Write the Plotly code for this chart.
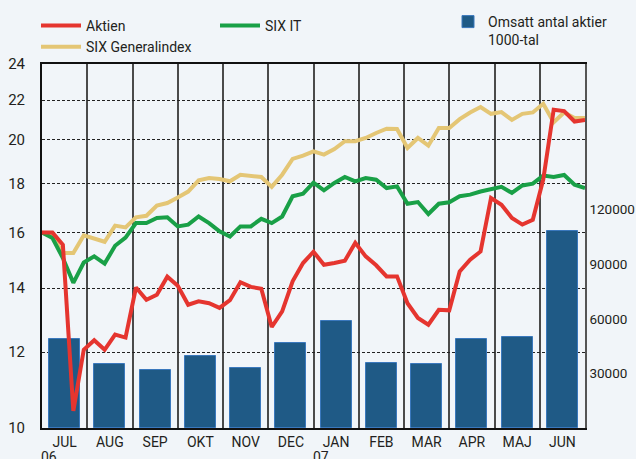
import numpy as np
import plotly.graph_objects as go

months = ["JUL", "AUG", "SEP", "OKT", "NOV", "DEC", "JAN", "FEB", "MAR", "APR", "MAJ", "JUN"]
years = ["06", "07"]
year_month_index = [0, 6]

# Omsatt antal aktier, 1000-tal (monthly)
volume = [48900, 35000, 31870, 39730, 32800, 46540, 58800, 35880, 35170, 48900, 49840, 108420]

# Weekly index values (53 weeks)
aktien = [16.0, 16.0, 15.54, 10.42, 12.07, 12.35, 12.07, 12.52, 12.43, 14.02,
          13.61, 13.78, 14.39, 14.08, 13.45, 13.56, 13.50, 13.35, 13.6, 14.20,
          14.04, 13.98, 12.75, 13.24, 14.23, 14.87, 15.28, 14.81, 14.87, 14.95,
          15.61, 15.11, 14.79, 14.40, 14.40, 13.50, 13.03, 12.82, 13.29, 13.27,
          14.57, 14.99, 15.29, 17.39, 17.11, 16.57, 16.31, 16.50, 18.17, 21.50,
          21.43, 20.90, 20.98]
six_it = [16.0, 15.79, 15.05, 14.18, 14.89, 15.11, 14.85, 15.50, 15.81, 16.37,
          16.37, 16.57, 16.60, 16.24, 16.31, 16.63, 16.37, 16.05, 15.85, 16.24,
          16.24, 16.54, 16.37, 16.63, 17.46, 17.57, 18.04, 17.71, 18.03, 18.29,
          18.10, 18.24, 18.17, 17.81, 17.88, 17.15, 17.22, 16.73, 17.15, 17.21,
          17.46, 17.53, 17.66, 17.77, 17.86, 17.60, 17.92, 18.0, 18.35, 18.29,
          18.38, 17.95, 17.81]
six_general = [16.0, 15.85, 15.23, 15.23, 15.89, 15.76, 15.65, 16.27, 16.20, 16.60,
               16.66, 17.07, 17.18, 17.41, 17.66, 18.14, 18.24, 18.20, 18.10, 18.39,
               18.36, 18.29, 17.86, 18.39, 19.10, 19.25, 19.45, 19.30, 19.56, 19.93,
               19.93, 20.09, 20.33, 20.54, 20.53, 19.61, 20.09, 19.72, 20.58, 20.58,
               21.02, 21.36, 21.64, 21.29, 21.38, 20.98, 21.29, 21.36, 21.81, 20.86,
               21.36, 21.08, 21.08]

left_ticks = [10, 12, 14, 16, 18, 20, 22, 24]
right_ticks = [30000, 60000, 90000, 120000]

RED = "#e5352f"
GREEN = "#19a047"
YELLOW = "#e4c675"
BAR = "#1f5a86"
BAR_EDGE = "#3a78bd"
BG = "#f1f5f9"
TXT = "#231f20"
FONT = "Roboto"

n_weeks = len(aktien)
week_x = np.arange(n_weeks) * len(months) / (n_weeks - 1)
month_x = np.arange(len(months)) + 0.5

fig = go.Figure()

fig.add_trace(go.Bar(
    x=month_x, y=volume, width=0.68, name="Omsatt antal aktier<br>1000-tal",
    marker=dict(color=BAR, line=dict(color=BAR_EDGE, width=1)),
    yaxis="y", legend="legend3",
))
fig.add_trace(go.Scatter(
    x=week_x, y=six_general, mode="lines", name="SIX Generalindex",
    line=dict(color=YELLOW, width=4), yaxis="y2", legend="legend", legendrank=2,
))
fig.add_trace(go.Scatter(
    x=week_x, y=six_it, mode="lines", name="SIX IT",
    line=dict(color=GREEN, width=4), yaxis="y2", legend="legend2",
))
fig.add_trace(go.Scatter(
    x=week_x, y=aktien, mode="lines", name="Aktien",
    line=dict(color=RED, width=4), yaxis="y2", legend="legend", legendrank=1,
))

annotations = []
for yr, mi in zip(years, year_month_index):
    annotations.append(dict(
        x=mi, y=0, xref="x", yref="paper", text=yr, showarrow=False,
        xanchor="left", yanchor="top", yshift=-19, xshift=-3,
        font=dict(family=FONT, size=14, color=TXT),
    ))

def legend_cfg(x, y, itemwidth, valign="middle"):
    return dict(
        x=x, y=y, xref="container", yref="container", yanchor="top", xanchor="left",
        bgcolor="rgba(0,0,0,0)", borderwidth=0, itemwidth=itemwidth,
        font=dict(family=FONT, size=14, color=TXT), orientation="v",
        traceorder="normal", tracegroupgap=0, valign=valign,
    )

fig.update_layout(
    width=636, height=459,
    margin=dict(l=42, r=51, t=64, b=31, autoexpand=False),
    paper_bgcolor=BG, plot_bgcolor=BG,
    showlegend=True,
    bargap=0,
    font=dict(family=FONT, size=14, color=TXT),
    xaxis=dict(
        range=[0, len(months)],
        tickmode="array", tickvals=list(month_x), ticktext=months,
        showgrid=False, zeroline=False,
        showline=True, linecolor="#111", linewidth=2, mirror=True,
        ticks="", ticklabelstandoff=0,
        tickfont=dict(family=FONT, size=14, color=TXT),
        minor=dict(tickmode="array", tickvals=list(range(len(months) + 1)),
                   showgrid=True, gridcolor="#4a4a4a", gridwidth=1.5, ticks=""),
    ),
    yaxis=dict(
        side="right", range=[0, 200000],
        tickmode="array", tickvals=right_ticks, ticktext=[str(v) for v in right_ticks],
        showgrid=False, zeroline=False,
        showline=True, linecolor="#555", linewidth=1.5,
        ticks="", ticklabelstandoff=0,
        tickfont=dict(family=FONT, size=13.5, color=TXT),
    ),
    yaxis2=dict(
        type="log", side="left", overlaying="y",
        range=[np.log10(left_ticks[0]), np.log10(left_ticks[-1])],
        tickmode="array", tickvals=left_ticks, ticktext=[str(v) for v in left_ticks],
        showgrid=True, gridcolor="#222", gridwidth=1, griddash="3px,2px",
        zeroline=False,
        showline=True, linecolor="#111", linewidth=2,
        ticks="", ticklabelstandoff=12,
        tickfont=dict(family=FONT, size=15, color=TXT),
    ),
    legend=legend_cfg(36 / 636, 1 - 10 / 459, 40),
    legend2=legend_cfg(215 / 636, 1 - 10 / 459, 40),
    legend3=legend_cfg(448 / 636, 1 - 6 / 459, 30, valign="top"),
    annotations=annotations,
)

fig.write_html("out.html", post_script="document.body.style.margin='0';",
               config={"displayModeBar": False})
